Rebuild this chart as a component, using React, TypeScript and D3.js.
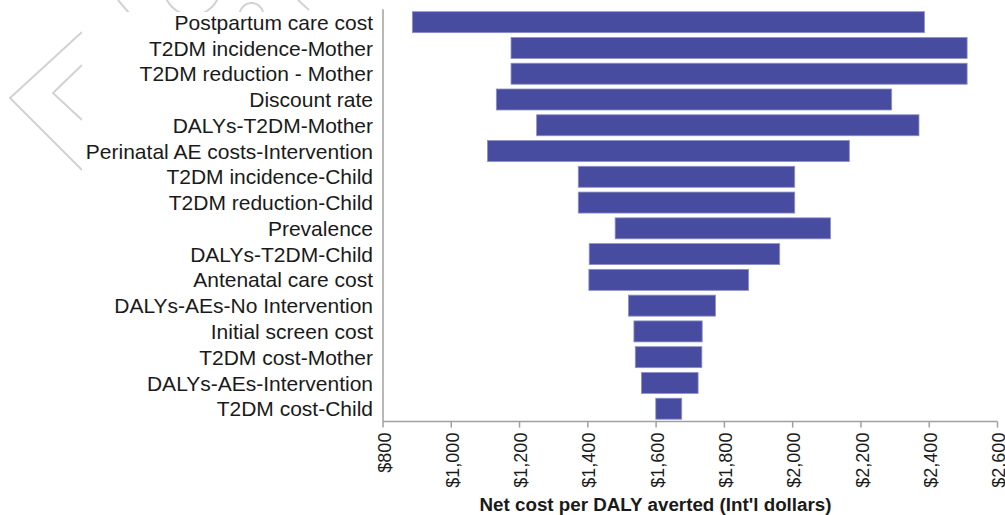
import React from "react";
import * as d3 from "d3";

// One-way sensitivity analysis: net cost per DALY averted across parameter ranges
const parameters: string[] = [
  "Postpartum care cost",
  "T2DM incidence-Mother",
  "T2DM reduction - Mother",
  "Discount rate",
  "DALYs-T2DM-Mother",
  "Perinatal AE costs-Intervention",
  "T2DM incidence-Child",
  "T2DM reduction-Child",
  "Prevalence",
  "DALYs-T2DM-Child",
  "Antenatal care cost",
  "DALYs-AEs-No Intervention",
  "Initial screen cost",
  "T2DM cost-Mother",
  "DALYs-AEs-Intervention",
  "T2DM cost-Child",
];

const lowValues: number[] = [
  886, 1175, 1175, 1132, 1250, 1106, 1372, 1372, 1480, 1404, 1403, 1519, 1535, 1539, 1557, 1599,
];

const highValues: number[] = [
  2386, 2511, 2511, 2290, 2370, 2166, 2006, 2006, 2111, 1962, 1871, 1774, 1735, 1734, 1723, 1675,
];

const tickValues: number[] = [800, 1000, 1200, 1400, 1600, 1800, 2000, 2200, 2400, 2600];

const axisTitle = "Net cost per DALY averted (Int'l dollars)";

const W = 1005;
const H = 515;
const plotLeft = 383;
const plotRight = 997.5;
const plotTop = 9.3;
const plotBottom = 421.6;

const FONT = "'Liberation Sans', Arial, Helvetica, sans-serif";
const BAR = "#484ca0";
const AXIS = "#a0a0a0";
const MARK = "#d2d2d2";

export default function App() {
  const x = d3.scaleLinear().domain([800, 2600]).range([plotLeft, plotRight]);
  const y = d3
    .scaleBand<string>()
    .domain(parameters)
    .range([plotTop, plotBottom])
    .paddingInner(0.185)
    .paddingOuter(0.0925);

  const fmt = (v: number) => "$" + d3.format(",")(v);

  // decorative background strokes, top-left corner
  const bgCircle1 = d3.arc()({ innerRadius: 28.2, outerRadius: 28.2, startAngle: 0, endAngle: 2 * Math.PI }) as string;
  const bgCircle2 = d3.arc()({ innerRadius: 11.8, outerRadius: 11.8, startAngle: 0, endAngle: 2 * Math.PI }) as string;

  return (
    <svg
      width={W}
      height={H}
      style={{ position: "absolute", left: 0, top: 0, background: "#fff" }}
      fontFamily={FONT}
    >
      <defs>
        <clipPath id="bg-clip">
          <path d={`M0,0H${W}V12H82V${H}H0Z`} />
        </clipPath>
      </defs>
      <g clipPath="url(#bg-clip)" fill="none" stroke={MARK} strokeWidth={2}>
        <polyline points="82,32 10,98 82,170" />
        <polyline points="82,65 53,93 82,120" />
        <line x1={118} y1={0} x2={129} y2={13} />
        <path d={bgCircle1} transform="translate(192,-13)" />
        <path d={bgCircle2} transform="translate(251.5,14.8)" />
        <line x1={298} y1={0} x2={309} y2={10} />
      </g>

      {/* bars */}
      <g>
        {parameters.map((p, i) => (
          <rect
            key={p}
            x={x(lowValues[i])}
            y={y(p)}
            width={x(highValues[i]) - x(lowValues[i])}
            height={y.bandwidth()}
            fill={BAR}
            stroke="#8e91c6"
            strokeWidth={0.8}
          />
        ))}
      </g>

      {/* category labels */}
      <g fontSize={21} fill="#1a1a1a" textAnchor="end">
        {parameters.map((p) => (
          <text key={p} x={plotLeft - 10} y={(y(p) as number) + y.bandwidth() / 2} dy="0.36em">
            {p}
          </text>
        ))}
      </g>

      {/* axes */}
      <g stroke={AXIS} strokeWidth={1.5} fill="none">
        <line x1={plotLeft} y1={plotTop} x2={plotLeft} y2={plotBottom} />
        <line x1={plotLeft} y1={plotBottom} x2={plotRight} y2={plotBottom} />
        {tickValues.map((t) => (
          <line key={t} x1={x(t)} y1={plotBottom} x2={x(t)} y2={plotBottom + 6} />
        ))}
      </g>

      <g fontSize={18} fill="#1a1a1a" textAnchor="end">
        {tickValues.map((t) => (
          <text key={t} transform={`translate(${x(t)},${plotBottom + 11}) rotate(-90)`} dy="0.42em">
            {fmt(t)}
          </text>
        ))}
      </g>

      <text x={655.5} y={511} textAnchor="middle" fontSize={18.8} fontWeight="bold" fill="#1a1a1a">
        {axisTitle}
      </text>
    </svg>
  );
}
